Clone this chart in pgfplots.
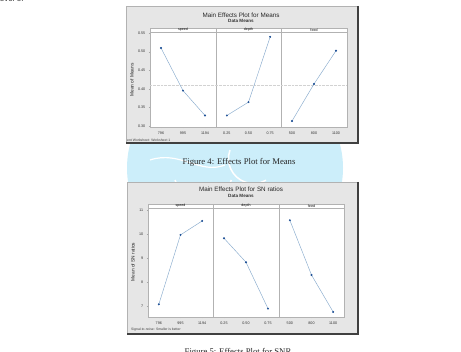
\documentclass[border=0pt]{standalone}
\usepackage{pgfplots}
\pgfplotsset{compat=1.18}
\usepackage{fontspec}
\setmainfont{Liberation Serif}
\setsansfont{Liberation Sans}
\definecolor{frameg}{RGB}{230,230,230}
\definecolor{linec}{RGB}{135,170,205}
\definecolor{markc}{RGB}{30,80,150}
\definecolor{wm}{RGB}{204,238,250}
\newcommand{\tickf}{\fontsize{3.7}{4}\selectfont\sffamily}
\pgfplotsset{
  panel/.style={scale only axis, anchor=south west, xmin=0.5, xmax=3.5, xtick={1,2,3},
    axis line style={gray!60, line width=0.4pt},
    tick style={gray!70, line width=0.3pt}, major tick length=1.2pt, tick align=outside,
    ticklabel style={font=\tickf, text=black!80},
    /pgf/number format/assume math mode=true,
    xtick pos=bottom, ytick pos=left,
    axis background/.style={fill=white}, clip=false},
  ser/.style={linec, line width=0.45pt, mark=*, mark size=0.75pt, mark options={draw=markc, fill=markc}},
  refl/.style={gray!35, densely dotted, line width=0.35pt, forget plot}
}
\begin{document}
\begin{tikzpicture}
\useasboundingbox (0,0) rectangle (461pt,-352pt);
\clip (0,0) rectangle (461pt,-352pt);
\fill[white] (0,0) rectangle (461pt,-352pt);
% watermark
\fill[wm] (235pt,-168pt) ellipse (108pt and 100pt);
\draw[white, line width=1.5pt] (175pt,-180pt) arc (200:340:30pt);
\draw[white, line width=1.5pt] (230pt,-150pt) arc (160:300:25pt);
\draw[white, line width=1.5pt] (280pt,-182pt) arc (190:320:28pt);
\draw[white, line width=1.2pt] (150pt,-160pt) .. controls (180pt,-150pt) and (200pt,-175pt) .. (225pt,-165pt);
% text at top
\node[anchor=base west, inner sep=0pt, font=\fontsize{8}{9}\selectfont\sffamily, text=black!80] at (-2pt,-2pt) {level of};
% frames
\fill[frameg] (126pt,-6pt) rectangle (358pt,-143pt);
\draw[gray!60, line width=0.5pt] (126pt,-143pt) -- (126pt,-6pt) -- (358pt,-6pt);
\draw[black!75, line width=1.2pt] (358pt,-6pt) -- (358pt,-143pt) -- (126pt,-143pt);
\fill[frameg] (127pt,-182pt) rectangle (358pt,-334pt);
\draw[gray!60, line width=0.5pt] (127pt,-334pt) -- (127pt,-182pt) -- (358pt,-182pt);
\draw[black!75, line width=1.2pt] (358pt,-182pt) -- (358pt,-334pt) -- (127pt,-334pt);
% titles
\node[font=\fontsize{6.3}{7}\selectfont\sffamily, text=black!85] at (241pt,-15pt) {Main Effects Plot for Means};
\node[font=\fontsize{4.6}{5}\selectfont\sffamily\bfseries, text=black!80] at (241pt,-21pt) {Data Means};
\node[font=\fontsize{6.3}{7}\selectfont\sffamily, text=black!85] at (241pt,-189pt) {Main Effects Plot for SN ratios};
\node[font=\fontsize{4.6}{5}\selectfont\sffamily\bfseries, text=black!80] at (241pt,-196pt) {Data Means};
% y labels
\node[rotate=90, font=\fontsize{4.8}{5}\selectfont\sffamily, text=black!85] at (132pt,-80pt) {Mean of Means};
\node[rotate=90, font=\fontsize{4.8}{5}\selectfont\sffamily, text=black!85] at (133pt,-262pt) {Mean of SN ratios};
% footnotes
\node[anchor=base west, inner sep=0pt, font=\fontsize{3.4}{4}\selectfont\sffamily, text=black!75] at (127pt,-141.5pt) {ent Worksheet: Worksheet 1};
\node[anchor=base west, inner sep=0pt, font=\fontsize{3.4}{4}\selectfont\sffamily, text=black!75] at (131pt,-331pt) {Signal-to-noise: Smaller is better};
% strips
\foreach \a/\b/\t in {150/216/speed, 216/281/depth, 281/347/feed}{
  \draw[gray!60, fill=white, line width=0.4pt] (\a pt,-28pt) rectangle (\b pt,-32pt);
  \node[font=\fontsize{3.6}{4}\selectfont\sffamily, inner sep=0pt] at ({(\a+\b)/2*1pt},-30pt) {\t};
}
\foreach \a/\b/\t in {148/213/speed, 213/279/depth, 279/344/feed}{
  \draw[gray!60, fill=white, line width=0.4pt] (\a pt,-204pt) rectangle (\b pt,-208pt);
  \node[font=\fontsize{3.6}{4}\selectfont\sffamily, inner sep=0pt] at ({(\a+\b)/2*1pt},-206pt) {\t};
}
% ---------- Top plot: Means ----------
\begin{axis}[panel, at={(150pt,-127pt)}, width=66pt, height=95pt, ymin=0.297, ymax=0.553,
  ytick={0.30,0.35,0.40,0.45,0.50,0.55}, yticklabels={0.30,0.35,0.40,0.45,0.50,0.55},
  xticklabels={796,995,1194}]
\addplot[refl] coordinates {(0.5,0.411) (3.5,0.411)};
\addplot[ser] coordinates {(1,0.510) (2,0.395) (3,0.328)};
\end{axis}
\begin{axis}[panel, at={(216pt,-127pt)}, width=65pt, height=95pt, ymin=0.297, ymax=0.553,
  ytick=\empty, xticklabels={0.25,0.50,0.75}]
\addplot[refl] coordinates {(0.5,0.411) (3.5,0.411)};
\addplot[ser] coordinates {(1,0.328) (2,0.364) (3,0.540)};
\end{axis}
\begin{axis}[panel, at={(281pt,-127pt)}, width=66pt, height=95pt, ymin=0.297, ymax=0.553,
  ytick=\empty, xticklabels={500,800,1100}]
\addplot[refl] coordinates {(0.5,0.411) (3.5,0.411)};
\addplot[ser] coordinates {(1,0.313) (2,0.413) (3,0.5025)};
\end{axis}
% ---------- Bottom plot: SN ratios ----------
\begin{axis}[panel, at={(148pt,-317pt)}, width=65pt, height=109pt, ymin=6.54, ymax=11.08,
  ytick={7,8,9,10,11}, yticklabels={7,8,9,10,11}, xticklabels={796,995,1194}]
\addplot[ser] coordinates {(1,7.07) (2,9.96) (3,10.54)};
\end{axis}
\begin{axis}[panel, at={(213pt,-317pt)}, width=66pt, height=109pt, ymin=6.54, ymax=11.08,
  ytick=\empty, xticklabels={0.25,0.50,0.75}]
\addplot[ser] coordinates {(1,9.82) (2,8.82) (3,6.89)};
\end{axis}
\begin{axis}[panel, at={(279pt,-317pt)}, width=65pt, height=109pt, ymin=6.54, ymax=11.08,
  ytick=\empty, xticklabels={500,800,1100}]
\addplot[ser] coordinates {(1,10.57) (2,8.29) (3,6.75)};
\end{axis}
% captions
\node[font=\fontsize{8.7}{10}\selectfont, text=black!85] at (239pt,-162pt) {Figure 4: Effects Plot for Means};
\node[anchor=north, inner sep=0pt, font=\fontsize{8.7}{10}\selectfont, text=black!85] at (238pt,-348.5pt) {Figure 5: Effects Plot for SNR};
\end{tikzpicture}
\end{document}
